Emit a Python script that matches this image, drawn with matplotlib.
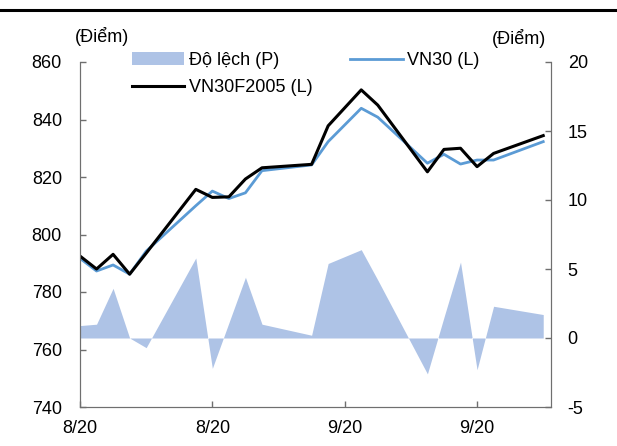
import pandas as pd
import matplotlib
matplotlib.use('Agg')
import matplotlib.pyplot as plt
import matplotlib.dates as mdates
from matplotlib.lines import Line2D
from matplotlib.ticker import FuncFormatter

plt.rcParams['font.family'] = ['Liberation Sans', 'DejaVu Sans']
plt.rcParams['font.size'] = 13
plt.rcParams['axes.unicode_minus'] = False

# data
dates = pd.to_datetime(['2020-08-17', '2020-08-18', '2020-08-19', '2020-08-20', '2020-08-21',
                        '2020-08-24', '2020-08-25', '2020-08-26', '2020-08-27', '2020-08-28',
                        '2020-08-31', '2020-09-01', '2020-09-03', '2020-09-04',
                        '2020-09-07', '2020-09-08', '2020-09-09', '2020-09-10', '2020-09-11',
                        '2020-09-14'])
vn30f = [792.5, 788.0, 793.1, 786.2, 793.5,
         815.7, 812.9, 813.1, 819.3, 823.2,
         824.4, 837.8, 850.3, 845.0,
         821.8, 829.6, 830.0, 823.6, 828.2,
         834.4]
vn30 = [791.7, 787.3, 789.4, 786.2, 794.2,
        810.0, 815.1, 812.5, 814.5, 822.2,
        824.2, 832.3, 843.9, 840.8,
        824.8, 827.9, 824.5, 825.9, 825.9,
        832.3]
basis = [0.9, 1.0, 3.6, 0.0, -0.7,
         5.8, -2.2, 1.1, 4.4, 1.0,
         0.2, 5.4, 6.4, 4.2,
         -2.6, 1.5, 5.5, -2.3, 2.3,
         1.7]
tick_dates = pd.to_datetime(['2020-08-17', '2020-08-25', '2020-09-02', '2020-09-10'])

area_col = '#aec3e6'
blue_col = '#5b9bd5'
spine_col = '#6f6f6f'

fig = plt.figure(figsize=(6.17, 4.46), dpi=100)
ax = fig.add_axes([80/617, 1-407/446, 471/617, 345/446])
ax2 = ax.twinx()

ax2.fill_between(dates, basis, 0, color=area_col, lw=0, label='Độ lệch (P)')
ax2.set_ylim(-5, 20)
ax2.set_yticks([-5, 0, 5, 10, 15, 20])

l1, = ax.plot(dates, vn30, color=blue_col, lw=2, label='VN30 (L)')
l2, = ax.plot(dates, vn30f, color='black', lw=2.2, label='VN30F2005 (L)')
ax.set_ylim(740, 860)
ax.set_yticks(range(740, 861, 20))
ax.set_zorder(ax2.get_zorder() + 1)
ax.patch.set_visible(False)

x0 = dates[0]
ax.set_xlim(x0, x0 + pd.Timedelta(days=28.47))
ax.set_xticks(tick_dates)
ax.xaxis.set_major_formatter(FuncFormatter(
    lambda v, p: '%d/%02d' % (mdates.num2date(v).month, mdates.num2date(v).year % 100)))

for a in (ax, ax2):
    for s in a.spines.values():
        s.set_color(spine_col)
    a.spines['top'].set_visible(False)
    a.tick_params(direction='in', length=4, width=1, color=spine_col)
ax.tick_params(axis='y', pad=13)
ax.tick_params(axis='x', pad=9.5)
ax2.tick_params(axis='y', pad=12)

h_area = ax2.get_legend_handles_labels()
handles = [h_area[0][0], l2, l1]
labels = ['Độ lệch (P)', 'VN30F2005 (L)', 'VN30 (L)']
fig.legend(handles, labels, ncol=2, loc='upper left', frameon=False,
           bbox_to_anchor=(132/617, 1-52/446), borderpad=0, borderaxespad=0,
           handlelength=2.9, handletextpad=0.25, columnspacing=2.1, labelspacing=0.55)

fig.text(75/617, 1-36/446, '(Điểm)', ha='left', va='center')
fig.text(546/617, 1-38/446, '(Điểm)', ha='right', va='center')
fig.add_artist(Line2D([0, 1], [1-10/446, 1-10/446], color='black', lw=2.2,
                      transform=fig.transFigure))

fig.savefig('out.png', dpi=100)
